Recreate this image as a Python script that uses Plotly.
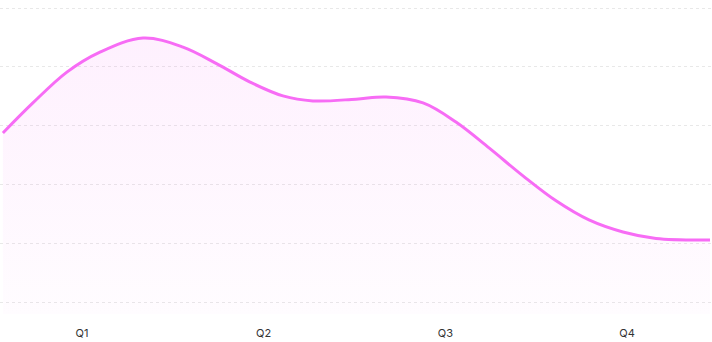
import plotly.graph_objects as go

# Data (x in quarter units, y on a 0-100 scale)
x_vals = [0.565, 0.730, 0.917, 1.099, 1.336, 1.556, 1.743, 1.925, 2.106, 2.271, 2.508,
          2.673, 2.877, 3.058, 3.240, 3.427, 3.609, 3.790, 3.977, 4.159, 4.456]
y_vals = [57.5, 67.7, 78.2, 85.0, 89.8, 86.7, 81.0, 74.8, 70.1, 68.4, 69.0,
          69.7, 67.7, 61.2, 52.4, 42.9, 34.4, 27.9, 23.8, 21.6, 21.1]
tick_vals = [1, 2, 3, 4]
tick_text = ["Q1", "Q2", "Q3", "Q4"]

y_min, y_max = -4.08, 102.72
x_min, x_max = 0.549, 4.467

fig = go.Figure()
fig.add_trace(go.Scatter(
    x=[x_vals[0], x_vals[-1]], y=[y_min, y_min], mode="lines",
    line=dict(width=0, color="rgba(0,0,0,0)"), hoverinfo="skip", showlegend=False))
fig.add_trace(go.Scatter(
    x=x_vals, y=y_vals, mode="lines",
    line=dict(color="#f76cf5", width=3, shape="spline", smoothing=1.0),
    fill="tonexty",
    fillgradient=dict(type="vertical",
                      colorscale=[[0, "rgba(247,108,245,0.02)"], [1, "rgba(247,108,245,0.10)"]]),
    showlegend=False))

fig.update_layout(
    width=712, height=342,
    margin=dict(l=0, r=0, t=0, b=28),
    paper_bgcolor="white", plot_bgcolor="white",
    font=dict(family="Inter, Roboto, sans-serif", size=11, color="#333333"),
    xaxis=dict(range=[x_min, x_max], tickvals=tick_vals, ticktext=tick_text,
               showgrid=False, zeroline=False, showline=False,
               ticks="outside", ticklen=9, tickcolor="rgba(0,0,0,0)"),
    yaxis=dict(range=[y_min, y_max], tickvals=[0, 20, 40, 60, 80, 100],
               showticklabels=False, showgrid=True, gridcolor="#e8e8e8",
               griddash="3px,3px", gridwidth=1, zeroline=False, showline=False),
)

fig.write_html("out.html")
